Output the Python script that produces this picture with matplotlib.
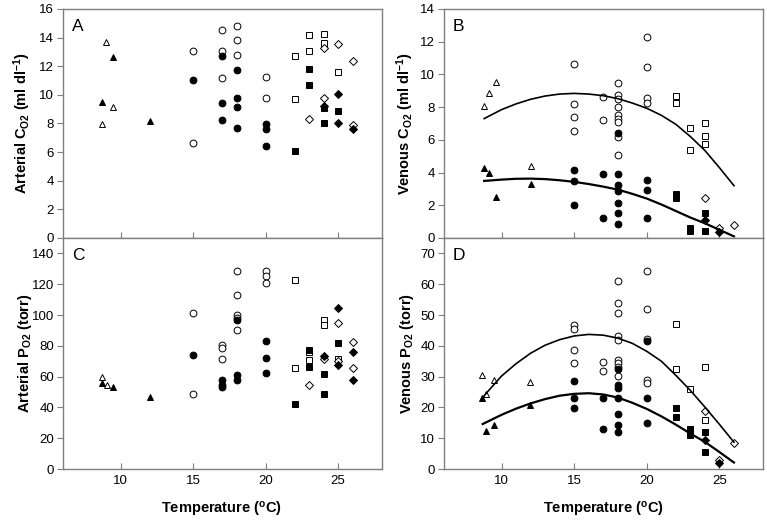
import numpy as np
import matplotlib
matplotlib.use('Agg')
import matplotlib.pyplot as plt

plt.rcParams['font.family'] = ['Liberation Sans', 'DejaVu Sans']
plt.rcParams['mathtext.default'] = 'regular'

# ---- data (temperature, value) ----
# A: arterial CO2
A_tri_open = [(9.0, 13.7), (9.5, 9.15), (8.75, 7.95)]
A_tri_fill = [(9.5, 12.65), (8.75, 9.5), (12.0, 8.2)]
A_circ_open = [(15, 13.05), (15, 6.65), (17, 14.5), (17, 13.1), (17, 11.2), (18, 14.8),
               (18, 13.8), (18, 12.8), (20, 11.25), (20, 9.75)]
A_circ_fill = [(15, 11.05), (17, 12.7), (17, 9.4), (17, 8.25), (18, 11.75), (18, 9.8),
               (18, 9.15), (18, 7.7), (20, 7.95), (20, 7.6), (20, 6.45)]
A_sq_open = [(22, 12.7), (22, 9.7), (23, 14.15), (23, 13.1), (24, 14.25), (24, 13.6), (25, 11.6)]
A_sq_fill = [(22, 6.05), (23, 11.8), (23, 10.7), (24, 9.05), (24, 8.0), (25, 8.9)]
A_dia_open = [(23, 8.3), (24, 13.3), (24, 9.75), (25, 13.55), (26, 12.35), (26, 7.9)]
A_dia_fill = [(24, 9.2), (25, 10.05), (25, 8.05), (26, 7.6)]

# B: venous CO2
B_tri_open = [(8.8, 8.05), (9.1, 8.85), (9.6, 9.55), (12.05, 4.4)]
B_tri_fill = [(8.8, 4.25), (9.1, 4.0), (9.6, 2.5), (12.05, 3.3)]
B_circ_open = [(15, 10.65), (15, 8.2), (15, 7.4), (15, 6.55), (17, 8.65), (17, 7.2),
               (18, 9.5), (18, 8.75), (18, 8.5), (18, 8.0), (18, 7.5), (18, 7.25), (18, 7.1),
               (18, 6.15), (18, 5.1), (20, 12.3), (20, 10.45), (20, 8.55), (20, 8.25)]
B_circ_fill = [(15, 4.15), (15, 3.5), (15, 2.0), (17, 3.9), (17, 1.25), (18, 6.4), (18, 3.9),
               (18, 3.25), (18, 2.9), (18, 2.15), (18, 1.5), (18, 0.85), (20, 3.55), (20, 2.95),
               (20, 1.2)]
B_sq_open = [(22, 8.7), (22, 8.25), (23, 6.75), (23, 5.4), (24, 7.0), (24, 6.25), (24, 5.75)]
B_sq_fill = [(22, 2.7), (22, 2.45), (23, 0.6), (23, 0.4), (24, 1.55), (24, 0.45)]
B_dia_open = [(24, 2.45), (25, 0.6), (26, 0.8)]
B_dia_fill = [(24, 1.1), (25, 0.35)]
B_fit_x = [8.8, 10, 11, 12, 13, 14, 15, 16, 17, 18, 19, 20, 21, 22, 23, 24, 25, 26]
B_fit_hi = [7.3, 7.85, 8.2, 8.48, 8.68, 8.8, 8.84, 8.8, 8.7, 8.52, 8.25, 7.93, 7.5, 6.95,
            6.2, 5.35, 4.3, 3.2]
B_fit_lo = [3.49, 3.57, 3.62, 3.63, 3.6, 3.53, 3.43, 3.3, 3.14, 2.96, 2.7, 2.41, 2.05, 1.65,
            1.25, 0.9, 0.5, 0.1]

# C: arterial PO2
C_tri_open = [(8.75, 60), (9.05, 54.5)]
C_tri_fill = [(8.75, 56), (9.5, 53), (12.0, 46.7)]
C_circ_open = [(15, 101.5), (15, 48.5), (17, 80.5), (17, 78.5), (17, 71.5), (18, 128.5),
               (18, 113), (18, 100), (18, 98), (18, 90.5), (20, 128.5), (20, 125.5), (20, 120.5)]
C_circ_fill = [(15, 74), (17, 57.5), (17, 54.5), (17, 53), (18, 96.5), (18, 61), (18, 57.5),
               (20, 83), (20, 72), (20, 62.5)]
C_sq_open = [(22, 122.5), (22, 65.5), (23, 76), (23, 70.5), (24, 97), (24, 93.5), (25, 71.5)]
C_sq_fill = [(22, 42), (23, 77.5), (23, 66.5), (24, 62), (24, 48.5), (25, 81.5)]
C_dia_open = [(23, 54.5), (24, 71.5), (25, 95), (25, 70), (26, 82.5), (26, 65.5)]
C_dia_fill = [(24, 73.5), (25, 104.5), (25, 67.5), (26, 76), (26, 57.5)]

# D: venous PO2
D_tri_open = [(8.65, 30.5), (8.95, 24.3), (9.45, 28.8), (11.95, 28.4)]
D_tri_fill = [(8.65, 23.1), (8.95, 12.5), (9.45, 14.3), (11.95, 20.7)]
D_circ_open = [(15, 46.9), (15, 45.3), (15, 38.7), (15, 34.4), (17, 34.9), (17, 31.9),
               (18, 61.1), (18, 54.0), (18, 50.5), (18, 43.1), (18, 42.0), (18, 35.5),
               (18, 34.3), (18, 33.0), (18, 30.3), (20, 64.4), (20, 52.1), (20, 42.3),
               (20, 28.9), (20, 27.9)]
D_circ_fill = [(15, 28.6), (15, 23.2), (15, 19.9), (17, 23.2), (17, 12.9), (18, 32.5),
               (18, 27.3), (18, 26.3), (18, 23.0), (18, 18.0), (18, 14.3), (18, 12.0),
               (20, 41.5), (20, 22.9), (20, 14.9)]
D_sq_open = [(22, 47.1), (22, 32.6), (23, 26.0), (24, 33.0), (24, 15.8)]
D_sq_fill = [(22, 19.9), (22, 16.9), (23, 12.9), (23, 11.2), (24, 12.0), (24, 5.4)]
D_dia_open = [(24, 18.7), (25, 3.0), (26, 8.3)]
D_dia_fill = [(24, 9.3), (25, 2.0)]
D_fit_x = [8.7, 9, 10, 11, 12, 13, 14, 15, 16, 17, 18, 19, 20, 21, 22, 23, 24, 25, 26]
D_fit_hi = [23.2, 24.9, 30.2, 34.2, 37.6, 40.2, 42.0, 43.2, 43.7, 43.45, 42.5, 40.8, 38.2,
            35.0, 30.4, 25.5, 20.1, 14.5, 8.7]
D_fit_lo = [14.6, 15.3, 17.6, 19.6, 21.3, 22.7, 23.8, 24.4, 24.6, 24.2, 23.2, 21.5, 19.5,
            17.1, 14.4, 11.5, 8.8, 5.5, 2.1]

W, H = 767, 520
fig = plt.figure(figsize=(W / 100, H / 100), dpi=100)


def box(x0, y0, x1, y1):
    return [x0 / W, 1 - y1 / H, (x1 - x0) / W, (y1 - y0) / H]


axA = fig.add_axes(box(62.5, 9, 381.5, 238))
axB = fig.add_axes(box(443.5, 9, 763, 238))
axC = fig.add_axes(box(62.5, 238, 381.5, 469))
axD = fig.add_axes(box(443.5, 238, 763, 469))

styles = [('^', 'white', 4.8), ('^', 'black', 4.8), ('o', 'white', 4.9), ('o', 'black', 4.9),
          ('s', 'white', 4.0), ('s', 'black', 4.0), ('D', 'white', 3.8), ('D', 'black', 3.8)]


def draw(ax, sets):
    for pts, (m, fc, ms) in zip(sets, styles):
        xs = [p[0] for p in pts]
        ys = [p[1] for p in pts]
        ax.plot(xs, ys, linestyle='none', marker=m, markerfacecolor=fc,
                markeredgecolor='black', markeredgewidth=0.7, markersize=ms)


draw(axA, [A_tri_open, A_tri_fill, A_circ_open, A_circ_fill, A_sq_open, A_sq_fill, A_dia_open, A_dia_fill])
draw(axB, [B_tri_open, B_tri_fill, B_circ_open, B_circ_fill, B_sq_open, B_sq_fill, B_dia_open, B_dia_fill])
draw(axC, [C_tri_open, C_tri_fill, C_circ_open, C_circ_fill, C_sq_open, C_sq_fill, C_dia_open, C_dia_fill])
draw(axD, [D_tri_open, D_tri_fill, D_circ_open, D_circ_fill, D_sq_open, D_sq_fill, D_dia_open, D_dia_fill])

axB.plot(B_fit_x, B_fit_hi, color='black', lw=1.2)
axB.plot(B_fit_x, B_fit_lo, color='black', lw=1.6)
axD.plot(D_fit_x, D_fit_hi, color='black', lw=1.2)
axD.plot(D_fit_x, D_fit_lo, color='black', lw=1.6)

lims = {axA: (16, 2), axB: (14, 2), axC: (150, 20), axD: (75, 10)}
tops = {axA: 16, axB: 14, axC: 140, axD: 70}
for ax, (ymax, step) in lims.items():
    ax.set_xlim(6, 28)
    ax.set_ylim(0, ymax)
    ax.set_yticks(np.arange(0, tops[ax] + 0.1, step))
    ax.set_xticks([10, 15, 20, 25])
    for s in ax.spines.values():
        s.set_color('#7f7f7f')
        s.set_linewidth(1.0)
    ax.tick_params(axis='y', direction='out', length=4, color='#7f7f7f', labelsize=9.5, pad=2)
    ax.tick_params(axis='x', direction='in', length=4, color='#7f7f7f', labelsize=9.5, pad=4)

for ax in (axA, axB):
    ax.tick_params(axis='x', labelbottom=False)

for ax, letter in zip((axA, axB, axC, axD), 'ABCD'):
    ax.text(0.03, 0.955, letter, transform=ax.transAxes, fontsize=12.5, va='top', ha='left')

lab = dict(fontsize=10.5, fontweight='bold')
axA.set_ylabel('Arterial C$_{O2}$ (ml dl$^{-1}$)', **lab)
axB.set_ylabel('Venous C$_{O2}$ (ml dl$^{-1}$)', **lab)
axC.set_ylabel('Arterial P$_{O2}$ (torr)', **lab)
axD.set_ylabel('Venous P$_{O2}$ (torr)', **lab)
for ax in (axA, axC):
    ax.yaxis.set_label_coords(-29 / 319, 0.5)
for ax in (axB, axD):
    ax.yaxis.set_label_coords(-27.5 / 319.5, 0.5)
axC.set_xlabel('Temperature ($^{o}$C)', labelpad=10, **lab)
axD.set_xlabel('Temperature ($^{o}$C)', labelpad=10, **lab)

fig.savefig('out.png', dpi=100)
